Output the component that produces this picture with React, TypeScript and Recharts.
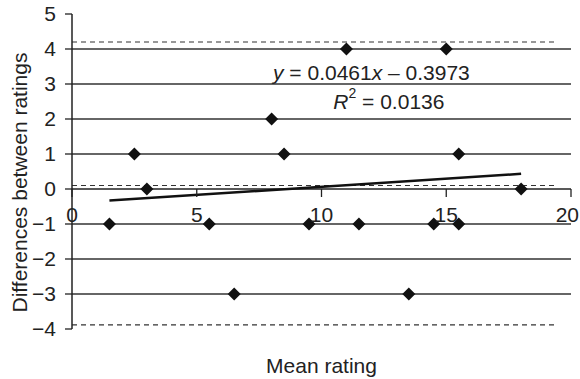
import React from "react";
import {
  ScatterChart,
  Scatter,
  XAxis,
  YAxis,
  ReferenceLine,
  ReferenceDot,
} from "recharts";

// mean rating (x) vs difference between ratings (y)
const meanRatings = [1.5, 2.5, 3.0, 5.5, 6.5, 8.0, 8.5, 9.5, 11.0, 11.5, 13.5, 14.5, 15.0, 15.5, 15.5, 18.0];
const differences = [-1, 1, 0, -1, -3, 2, 1, -1, 4, -1, -3, -1, 4, 1, -1, 0];

const xTicks = [0, 5, 10, 15, 20];
const yTicks = [-4, -3, -2, -1, 0, 1, 2, 3, 4, 5];
const gridValues = [-3, -2, -1, 1, 2, 3, 4];

// limits of agreement (dashed) and mean difference
const limitValues = [4.2, 0.1, -3.88];
const limitEndX = 19.4;

// trend line y = slope * x + intercept
const slope = 0.0461;
const intercept = -0.3973;
const trendRange = [1.5, 18];

const X_MIN = 0;
const X_MAX = 20;
const Y_MIN = -4;
const Y_MAX = 5;

const W = 580;
const H = 379;
const MARGIN = { top: 14, right: 9, bottom: 0, left: 0 };
const Y_AXIS_W = 72;
const X_AXIS_H = 50;
const PLOT_H = H - MARGIN.top - MARGIN.bottom - X_AXIS_H;
const ZERO_Y = MARGIN.top + (PLOT_H * (Y_MAX - 0)) / (Y_MAX - Y_MIN);

const INK = "#222";
const FONT = "'Liberation Sans', Arial, Helvetica, sans-serif";
const FS = 21;

const points = meanRatings.map((x, i) => ({ x, y: differences[i] }));
const trendSegment = trendRange.map((x) => ({ x, y: slope * x + intercept }));

const fmt = (v: number) => (v < 0 ? `\u2212${Math.abs(v)}` : `${v}`);

function Diamond(props: any) {
  const { cx, cy } = props;
  const r = 6.5;
  return (
    <path
      d={`M${cx},${cy - r}L${cx + r},${cy}L${cx},${cy + r}L${cx - r},${cy}Z`}
      fill="#111"
    />
  );
}

function XTick(props: any) {
  const { x, payload } = props;
  const label = fmt(payload.value);
  // keep the last label inside the picture
  const half = (label.length * 0.556 * FS) / 2;
  const tx = Math.min(x, W - 1 - half);
  return (
    <g>
      <line x1={x} x2={x} y1={ZERO_Y} y2={ZERO_Y + 8} stroke={INK} strokeWidth={1.3} />
      <text
        x={tx}
        y={ZERO_Y + 25}
        textAnchor="middle"
        dominantBaseline="central"
        fontSize={FS}
        fontFamily={FONT}
        fill={INK}
      >
        {label}
      </text>
    </g>
  );
}

function YTitle(props: any) {
  const { viewBox } = props;
  const x = viewBox.x + 19;
  const y = viewBox.y + viewBox.height / 2 + 11;
  return (
    <text
      x={x}
      y={y}
      transform={`rotate(-90, ${x}, ${y})`}
      textAnchor="middle"
      dominantBaseline="central"
      fontSize={FS}
      fontFamily={FONT}
      fill={INK}
    >
      Differences between ratings
    </text>
  );
}

function XTitle(props: any) {
  const { viewBox } = props;
  return (
    <text
      x={viewBox.x + viewBox.width / 2}
      y={viewBox.y + 44}
      textAnchor="middle"
      fontSize={FS}
      fontFamily={FONT}
      fill={INK}
    >
      Mean rating
    </text>
  );
}

function EquationLabel(props: any) {
  const { viewBox } = props;
  return (
    <text
      x={viewBox.x + viewBox.width / 2}
      y={viewBox.y + viewBox.height / 2}
      textAnchor="middle"
      dominantBaseline="central"
      fontSize={FS}
      fontFamily={FONT}
      fill={INK}
    >
      <tspan fontStyle="italic">y</tspan>
      {` = ${slope}`}
      <tspan fontStyle="italic">x</tspan>
      {` \u2013 ${Math.abs(intercept)}`}
    </text>
  );
}

function R2Label(props: any) {
  const { viewBox } = props;
  return (
    <text
      x={viewBox.x + viewBox.width / 2}
      y={viewBox.y + viewBox.height / 2}
      textAnchor="middle"
      dominantBaseline="central"
      fontSize={FS}
      fontFamily={FONT}
      fill={INK}
    >
      <tspan fontStyle="italic">R</tspan>
      <tspan fontSize={14} dy={-8}>2</tspan>
      <tspan dy={8}>{" = 0.0136"}</tspan>
    </text>
  );
}

export default function App() {
  return (
    <div style={{ position: "absolute", left: 0, top: 0, width: W, height: H, background: "#fff" }}>
      <ScatterChart width={W} height={H} margin={MARGIN}>
        <XAxis
          type="number"
          dataKey="x"
          domain={[X_MIN, X_MAX]}
          ticks={xTicks}
          height={X_AXIS_H}
          axisLine={false}
          tickLine={false}
          tick={<XTick />}
          allowDataOverflow
          label={{ content: <XTitle /> }}
        />
        <YAxis
          type="number"
          dataKey="y"
          domain={[Y_MIN, Y_MAX]}
          ticks={yTicks}
          width={Y_AXIS_W}
          tickSize={7}
          tickMargin={9}
          tickFormatter={fmt}
          tick={{ fontSize: FS, fontFamily: FONT, fill: INK }}
          axisLine={{ stroke: INK, strokeWidth: 1.5 }}
          tickLine={{ stroke: INK, strokeWidth: 1.3 }}
          allowDataOverflow
          label={{ content: <YTitle /> }}
        />
        {gridValues.map((v) => (
          <ReferenceLine key={`g${v}`} y={v} stroke="#333" strokeWidth={1.3} />
        ))}
        <ReferenceLine y={0} stroke={INK} strokeWidth={1.5} />
        {limitValues.map((v) => (
          <ReferenceLine
            key={`l${v}`}
            segment={[
              { x: X_MIN, y: v },
              { x: limitEndX, y: v },
            ]}
            stroke="#333"
            strokeWidth={1.2}
            strokeDasharray="5 4"
          />
        ))}
        <ReferenceLine segment={trendSegment} stroke="#111" strokeWidth={2.5} />
        <Scatter data={points} shape={<Diamond />} isAnimationActive={false} />
        <ReferenceDot x={12.0} y={3.34} r={1} fill="none" stroke="none" label={{ content: <EquationLabel /> }} />
        <ReferenceDot x={12.7} y={2.51} r={1} fill="none" stroke="none" label={{ content: <R2Label /> }} />
      </ScatterChart>
    </div>
  );
}
